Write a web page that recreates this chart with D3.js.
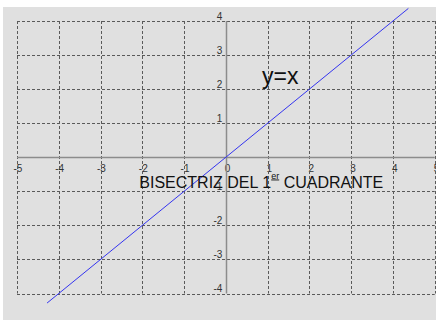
<!DOCTYPE html>
<html>
<head>
<meta charset="utf-8">
<script src="https://cdn.jsdelivr.net/npm/d3@7"></script>
<style>
  body { margin: 0; background: #fff; }
  svg { display: block; font-family: "Liberation Sans", Arial, sans-serif; }
</style>
</head>
<body>
<svg width="436" height="320"></svg>
<script>
  // tick values
  const xTicks = [-5, -4, -3, -2, -1, 0, 1, 2, 3, 4, 5];
  const yTicks = [-4, -3, -2, -1, 1, 2, 3, 4];
  // the bisector y = x, drawn between these two points
  const lineX = [-4.28, 4.37];
  const lineY = [-4.28, 4.37];

  const svg = d3.select("svg"),
      W = +svg.attr("width"),
      H = +svg.attr("height");

  const x = d3.scaleLinear().domain([-5, 5]).range([17, 434.7]);
  const y = d3.scaleLinear().domain([-4, 4]).range([293.5, 21]);

  // grey panel
  svg.append("rect")
      .attr("x", 3).attr("y", 7)
      .attr("width", W - 3).attr("height", H - 7)
      .style("fill", "#e0e0e0");

  // tick labels (drawn first, the grid runs over them)
  svg.append("g").selectAll("text")
      .data(xTicks)
      .enter().append("text")
      .attr("x", d => x(d) - (d < 0 ? 3.5 : 1))
      .attr("y", y(0) + 14.5)
      .style("font-size", "10px")
      .style("fill", "#333")
      .text(d => d < 0 ? "-" + Math.abs(d) : d);

  svg.append("g").selectAll("text")
      .data(yTicks)
      .enter().append("text")
      .attr("x", x(0) - 3.5)
      .attr("y", d => y(d) - 1.5)
      .style("text-anchor", "end")
      .style("font-size", "10px")
      .style("fill", "#333")
      .text(d => d < 0 ? "-" + Math.abs(d) : d);

  // dashed grid
  const grid = svg.append("g")
      .style("stroke", "#5a5a5a")
      .style("stroke-width", 1)
      .style("stroke-dasharray", "3,2");

  grid.selectAll("line.v")
      .data(xTicks.filter(d => d !== 0))
      .enter().append("line")
      .attr("class", "v")
      .attr("x1", d => Math.round(x(d)) + 0.5).attr("x2", d => Math.round(x(d)) + 0.5)
      .attr("y1", y(4)).attr("y2", y(-4));

  grid.selectAll("line.h")
      .data(yTicks)
      .enter().append("line")
      .attr("class", "h")
      .attr("x1", x(-5)).attr("x2", x(5))
      .attr("y1", d => Math.round(y(d)) + 0.5).attr("y2", d => Math.round(y(d)) + 0.5);

  // axes
  svg.append("line")
      .attr("x1", x(-5)).attr("x2", x(5))
      .attr("y1", Math.round(y(0)) + 0.5).attr("y2", Math.round(y(0)) + 0.5)
      .style("stroke", "#8c8c8c").style("stroke-width", 1.5);

  svg.append("line")
      .attr("x1", Math.round(x(0)) + 0.5).attr("x2", Math.round(x(0)) + 0.5)
      .attr("y1", y(4)).attr("y2", y(-4))
      .style("stroke", "#8c8c8c").style("stroke-width", 1.5);

  // the line y = x
  svg.append("path")
      .datum(d3.zip(lineX, lineY))
      .attr("d", d3.line().x(d => x(d[0])).y(d => y(d[1])))
      .style("fill", "none")
      .style("stroke", "#3434f0")
      .style("stroke-width", 1);

  // labels
  svg.append("text")
      .attr("x", 262)
      .attr("y", 83.5)
      .style("font-size", "23px")
      .style("fill", "#111")
      .text("y=x");

  const title = svg.append("text")
      .attr("x", 139.3)
      .attr("y", 187.5)
      .style("font-size", "16px")
      .style("fill", "#111");
  title.append("tspan").text("BISECTRIZ DEL 1");
  title.append("tspan")
      .attr("dy", -9)
      .style("font-size", "9px")
      .style("text-decoration", "underline")
      .text("er");
  title.append("tspan")
      .attr("dy", 9)
      .text(" CUADRANTE");
</script>
</body>
</html>
